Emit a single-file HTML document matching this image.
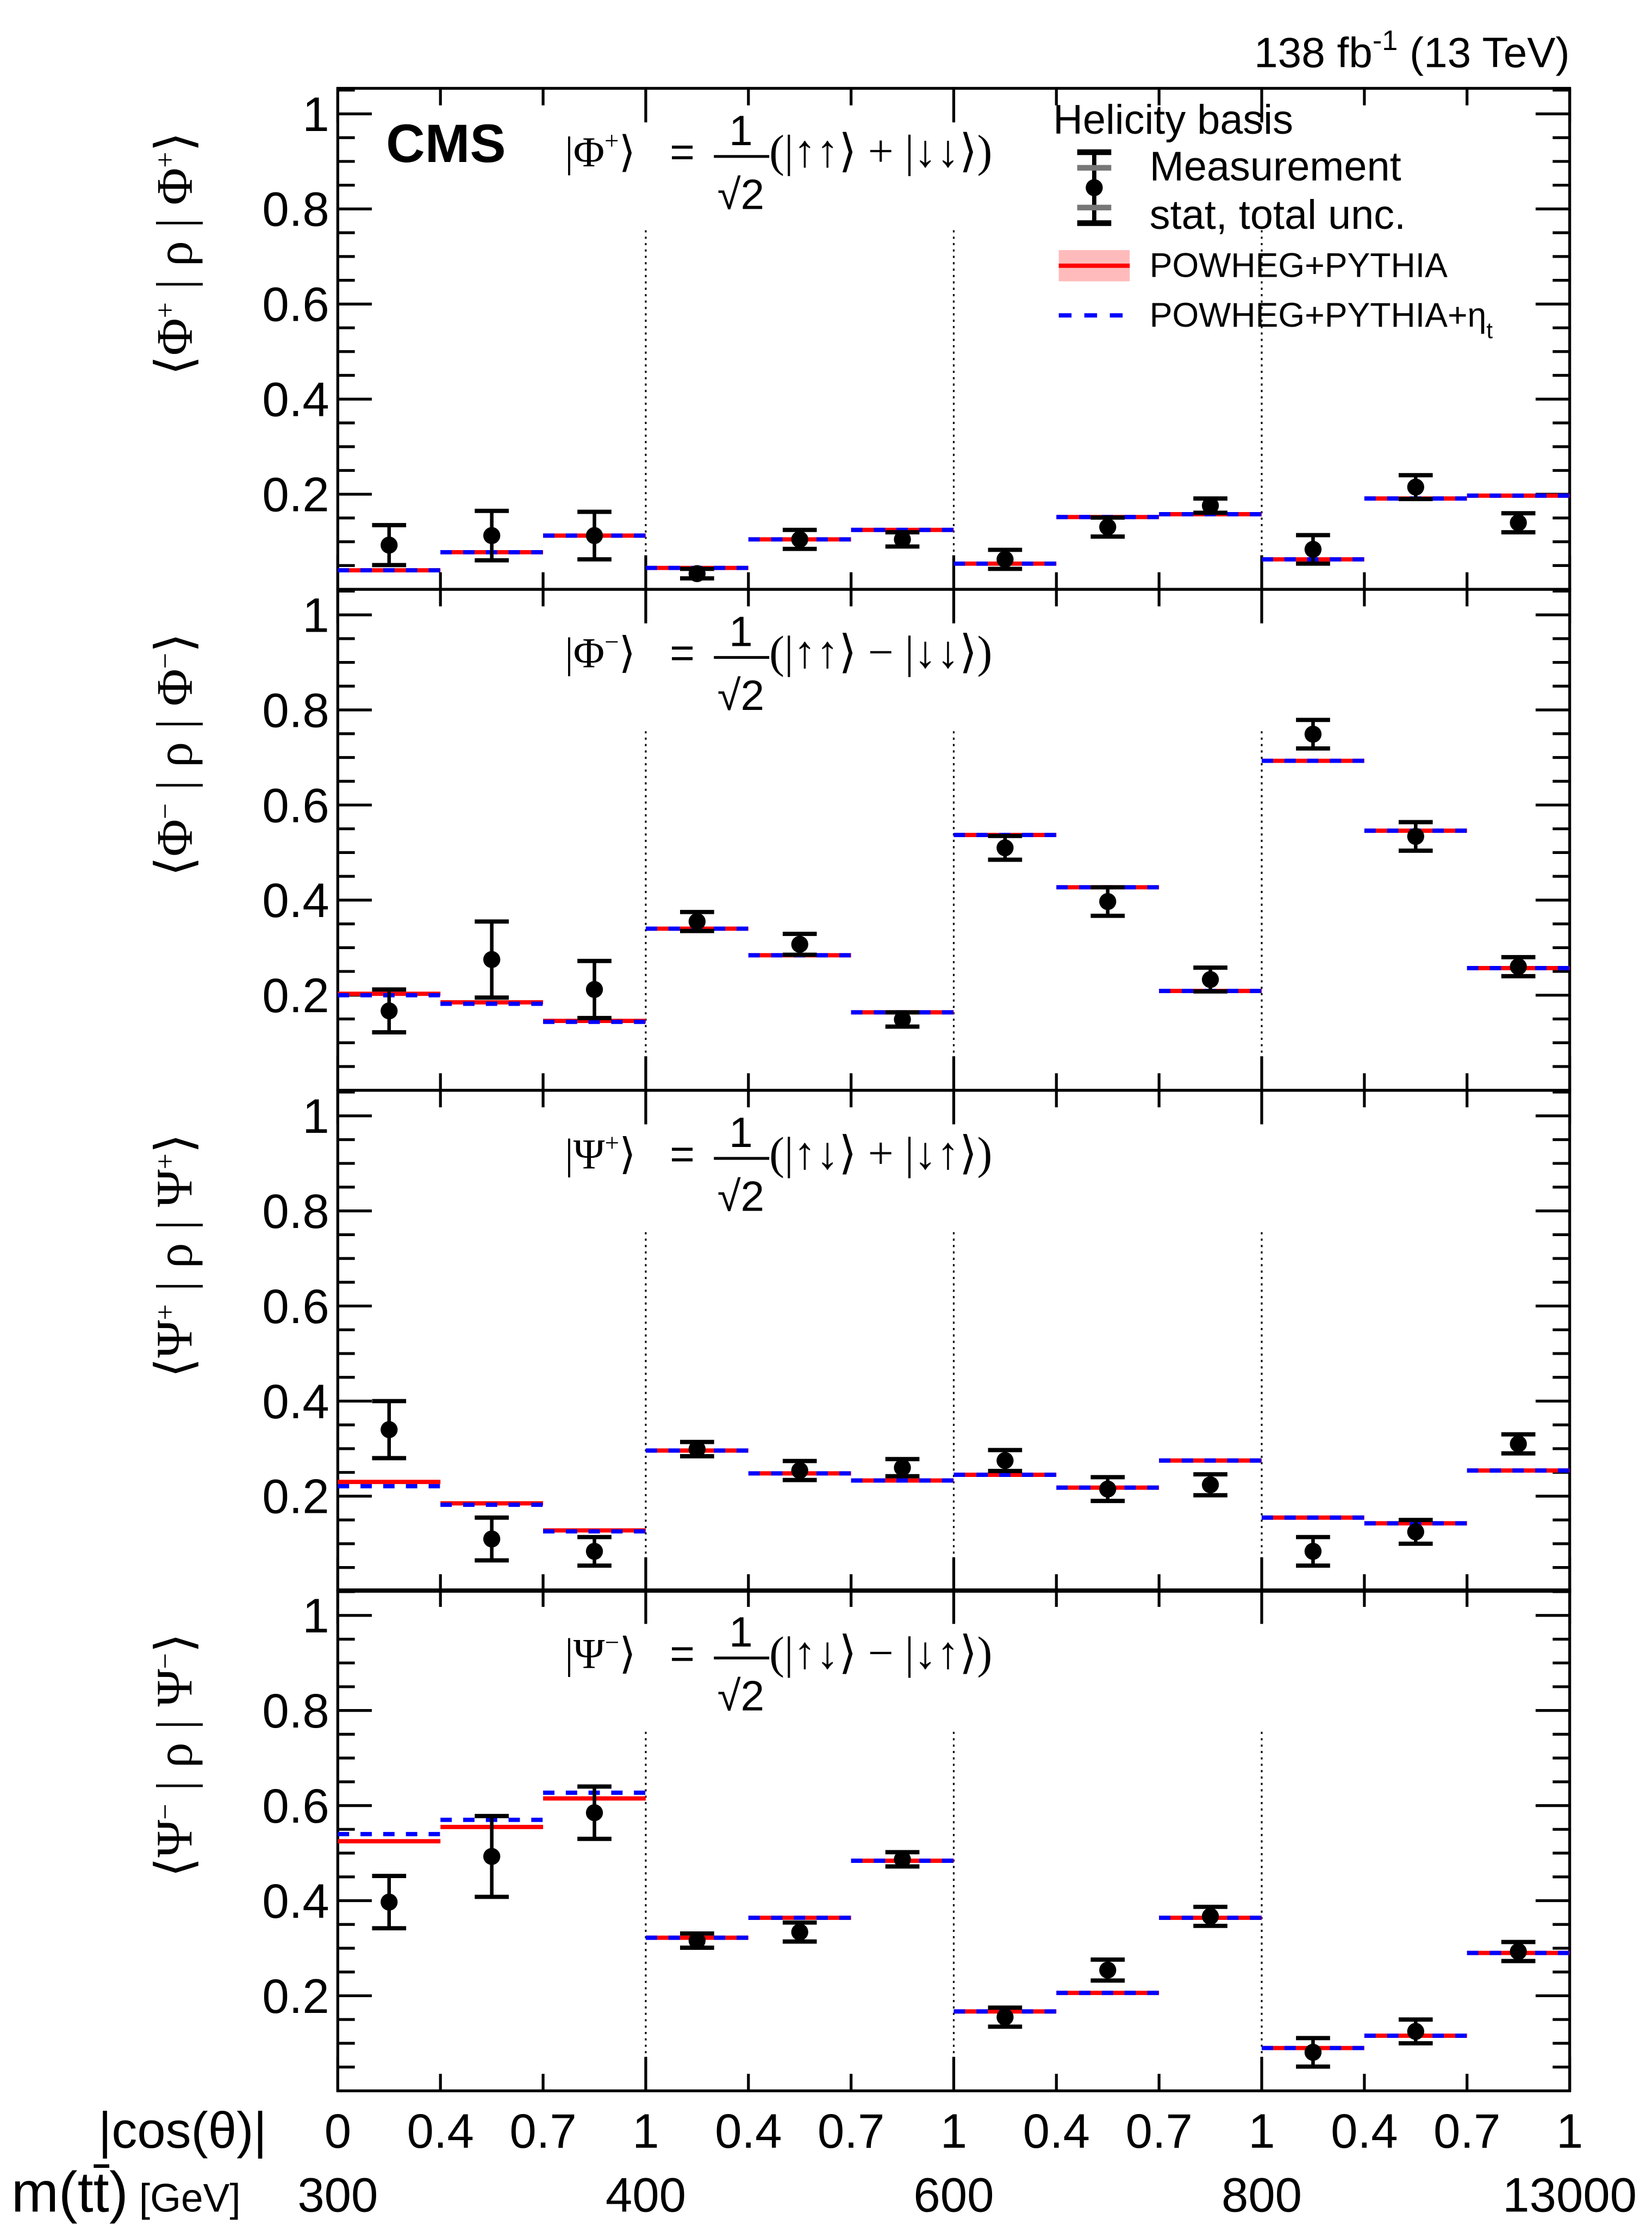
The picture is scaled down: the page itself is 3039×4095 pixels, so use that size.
<!DOCTYPE html>
<html><head><meta charset="utf-8"><style>
html,body{margin:0;padding:0;background:#fff;}
svg{display:block;font-family:"Liberation Sans",sans-serif;}
</style></head><body>
<svg id="chart" width="3039" height="4095" viewBox="0 0 1164 1568" xmlns="http://www.w3.org/2000/svg">
<rect width="1164" height="1568" fill="#fff"/>
<g id="plot"></g>
<text x="1106" y="47" font-size="30" text-anchor="end">138 fb<tspan font-size="20" dy="-12">-1</tspan><tspan dy="12"> (13 TeV)</tspan></text>
<text x="272" y="114" font-size="38" font-weight="bold">CMS</text>
<g>
<text x="742" y="94" font-size="29">Helicity basis</text>
<line x1="771" y1="107" x2="771" y2="157" stroke="#000" stroke-width="3"/>
<line x1="759" y1="107" x2="783" y2="107" stroke="#000" stroke-width="4"/>
<line x1="759" y1="157" x2="783" y2="157" stroke="#000" stroke-width="4"/>
<line x1="759" y1="118" x2="783" y2="118" stroke="#777" stroke-width="4"/>
<line x1="759" y1="146" x2="783" y2="146" stroke="#777" stroke-width="4"/>
<circle cx="771" cy="132" r="6"/>
<text x="810" y="127" font-size="29">Measurement</text>
<text x="810" y="161" font-size="29">stat, total unc.</text>
<rect x="746" y="176" width="50" height="22" fill="#fbb"/>
<line x1="746" y1="187" x2="796" y2="187" stroke="#f00" stroke-width="3"/>
<text x="810" y="195" font-size="24">POWHEG+PYTHIA</text>
<line x1="746" y1="222" x2="796" y2="222" stroke="#00f" stroke-width="3" stroke-dasharray="9,9"/>
<text x="810" y="230" font-size="24">POWHEG+PYTHIA+η<tspan font-size="16" dy="8">t</tspan></text>
</g>
<text x="188" y="1513" font-size="36" text-anchor="end">|cos(θ)|</text>
<g>
<text x="8" y="1558" font-size="40">m(t</text>
<text x="65.8" y="1558" font-size="40">t</text>
<text x="77" y="1558" font-size="40">)</text>
<text x="98" y="1558" font-size="28">[GeV]</text>
<line x1="66" x2="77" y1="1526" y2="1526" stroke="#000" stroke-width="2.5"/>
</g>
</svg>
<script>
const cosLabels=["0","0.4","0.7","1","0.4","0.7","1","0.4","0.7","1","0.4","0.7","1"];
const massLabels=["300","400","600","800","13000"];
const yTicks=[0.2,0.4,0.6,0.8,1];
const yTickLabels=["0.2","0.4","0.6","0.8","1"];
const predPhiP=[0.04,0.078,0.113,0.045,0.105,0.125,0.054,0.152,0.158,0.063,0.191,0.197];
const altPhiP=[0.04,0.078,0.113,0.045,0.105,0.125,0.054,0.152,0.158,0.063,0.191,0.197];
const measPhiP=[0.093,0.113,0.113,0.033,0.105,0.105,0.063,0.131,0.176,0.084,0.215,0.14];
const errPhiP=[0.042,0.052,0.05,0.01,0.02,0.015,0.02,0.02,0.015,0.03,0.025,0.02];
const predPhiM=[0.203,0.185,0.146,0.34,0.284,0.164,0.537,0.427,0.209,0.693,0.546,0.257];
const altPhiM=[0.2,0.182,0.144,0.34,0.284,0.164,0.537,0.427,0.209,0.693,0.546,0.257];
const measPhiM=[0.167,0.275,0.212,0.355,0.307,0.149,0.51,0.397,0.233,0.749,0.534,0.26];
const errPhiM=[0.045,0.08,0.06,0.02,0.022,0.015,0.025,0.03,0.025,0.03,0.03,0.02];
const predPsiP=[0.23,0.185,0.128,0.296,0.248,0.233,0.245,0.218,0.275,0.155,0.143,0.254];
const altPsiP=[0.221,0.182,0.126,0.296,0.248,0.233,0.245,0.218,0.275,0.155,0.143,0.254];
const measPsiP=[0.34,0.11,0.084,0.299,0.254,0.26,0.275,0.215,0.224,0.084,0.125,0.31];
const errPsiP=[0.06,0.045,0.03,0.015,0.02,0.018,0.022,0.025,0.022,0.03,0.025,0.02];
const predPsiM=[0.525,0.555,0.615,0.322,0.364,0.484,0.167,0.206,0.364,0.09,0.116,0.29];
const altPsiM=[0.54,0.57,0.627,0.322,0.364,0.484,0.167,0.206,0.364,0.09,0.116,0.29];
const measPsiM=[0.397,0.493,0.585,0.316,0.334,0.487,0.155,0.254,0.367,0.081,0.125,0.293];
const errPsiM=[0.055,0.085,0.055,0.015,0.02,0.015,0.02,0.022,0.02,0.03,0.025,0.02];

const NS="http://www.w3.org/2000/svg";
const X0=238,X1=1106,NB=12,BW=(X1-X0)/NB;
const panelsTop=[62,415,768,1120],PH=353,YMAX=PH/335;
function xAt(i){return X0+i*BW;}
function mk(tag,attrs,parent){const e=document.createElementNS(NS,tag);for(const k in attrs)e.setAttribute(k,attrs[k]);parent.appendChild(e);return e;}
const plot=document.getElementById('plot');
const panels=[
 {name:'phi-plus',pred:predPhiP,alt:altPhiP,meas:measPhiP,err:errPhiP,ylab:'Φ',sgn:'+',op:'+',st:['↑↑','↓↓']},
 {name:'phi-minus',pred:predPhiM,alt:altPhiM,meas:measPhiM,err:errPhiM,ylab:'Φ',sgn:'−',op:'−',st:['↑↑','↓↓']},
 {name:'psi-plus',pred:predPsiP,alt:altPsiP,meas:measPsiP,err:errPsiP,ylab:'Ψ',sgn:'+',op:'+',st:['↑↓','↓↑']},
 {name:'psi-minus',pred:predPsiM,alt:altPsiM,meas:measPsiM,err:errPsiM,ylab:'Ψ',sgn:'−',op:'−',st:['↑↓','↓↑']}
];
panels.forEach((p,pi)=>{
 const top=panelsTop[pi],bot=top+PH;
 const y=v=>bot-v/YMAX*PH;
 const g=mk('g',{},plot);
 
 
 mk('rect',{x:X0,y:top,width:X1-X0,height:PH,fill:'none',stroke:'#000','stroke-width':2},g);
 [3,6,9].forEach(i=>{
  const l=mk('line',{x1:xAt(i),x2:xAt(i),y1:top+100,y2:bot,stroke:'#000','stroke-width':1.2,'stroke-dasharray':'1.5,3'},g);
  
  
 });
 for(let k=1;k<=21;k++){
  const v=k*0.05;if(v>YMAX)break;
  const major=(k%4===0);const len=major?24:12;
  mk('line',{x1:X0,x2:X0+len,y1:y(v),y2:y(v),stroke:'#000','stroke-width':2},g);
  mk('line',{x1:X1,x2:X1-len,y1:y(v),y2:y(v),stroke:'#000','stroke-width':2},g);
 }
 yTicks.forEach((v,k)=>{
  const t=mk('text',{x:X0-6,y:y(v)+12,'font-size':34,'text-anchor':'end'},g);
  t.textContent=yTickLabels[k];
  
  
 });
 for(let i=0;i<=NB;i++){
  const len=(i%3===0)?24:12;
  mk('line',{x1:xAt(i),x2:xAt(i),y1:bot,y2:bot-len,stroke:'#000','stroke-width':2},g);
  mk('line',{x1:xAt(i),x2:xAt(i),y1:top,y2:top+len,stroke:'#000','stroke-width':2},g);
 }
 const yt=mk('text',{transform:`translate(135,${top+PH/2-60}) rotate(-90)`,'font-size':36,'text-anchor':'middle','font-family':'Liberation Serif,serif'},g);
 yt.innerHTML=`⟨${p.ylab}<tspan font-size="20" dy="-12">${p.sgn}</tspan><tspan dy="12"> | ρ | ${p.ylab}</tspan><tspan font-size="20" dy="-12">${p.sgn}</tspan><tspan dy="12">⟩</tspan>`;
 
 
 const f=mk('g',{},g);
 
 
 const ft=mk('text',{x:398,y:top+55,'font-size':30,'font-family':'Liberation Serif,serif'},f);
 ft.innerHTML=`|${p.ylab}<tspan font-size="18" dy="-12">${p.sgn}</tspan><tspan dy="12">⟩</tspan>`;
 const eq=mk('text',{x:472,y:top+55,'font-size':30},f);eq.textContent='=';
 const one=mk('text',{x:522,y:top+40,'font-size':30,'text-anchor':'middle'},f);one.textContent='1';
 mk('line',{x1:503,x2:542,y1:top+48,y2:top+48,stroke:'#000','stroke-width':2},f);
 const s2=mk('text',{x:522,y:top+85,'font-size':30,'text-anchor':'middle'},f);s2.textContent='√2';
 const ft2=mk('text',{x:542,y:top+55,'font-size':32,'font-family':'Liberation Serif,serif'},f);
 ft2.textContent=`(|${p.st[0]}⟩ ${p.op} |${p.st[1]}⟩)`;
 for(let i=0;i<NB;i++){
  const r=mk('line',{x1:xAt(i),x2:xAt(i+1),y1:y(p.pred[i]),y2:y(p.pred[i]),stroke:'#f00','stroke-width':3},g);
  
  
  const b=mk('line',{x1:xAt(i),x2:xAt(i+1),y1:y(p.alt[i]),y2:y(p.alt[i]),stroke:'#00f','stroke-width':3,'stroke-dasharray':'8,8'},g);
  
  
 }
 for(let i=0;i<NB;i++){
  const cx=xAt(i)+BW/2,v=p.meas[i],e=p.err[i];
  const m=mk('g',{},g);
  
  
  mk('line',{x1:cx,x2:cx,y1:y(v+e),y2:y(v-e),stroke:'#000','stroke-width':2.5},m);
  mk('line',{x1:cx-12,x2:cx+12,y1:y(v+e),y2:y(v+e),stroke:'#000','stroke-width':3},m);
  mk('line',{x1:cx-12,x2:cx+12,y1:y(v-e),y2:y(v-e),stroke:'#000','stroke-width':3},m);
  mk('circle',{cx:cx,cy:y(v),r:6},m);
 }
});
cosLabels.forEach((t,i)=>{
 const e=mk('text',{x:xAt(i),y:1513,'font-size':34,'text-anchor':'middle'},plot);e.textContent=t;
 
 
});
massLabels.forEach((t,k)=>{
 const e=mk('text',{x:xAt(k*3),y:1558,'font-size':34,'text-anchor':'middle'},plot);e.textContent=t;
 
 
});
</script>
</body></html>
